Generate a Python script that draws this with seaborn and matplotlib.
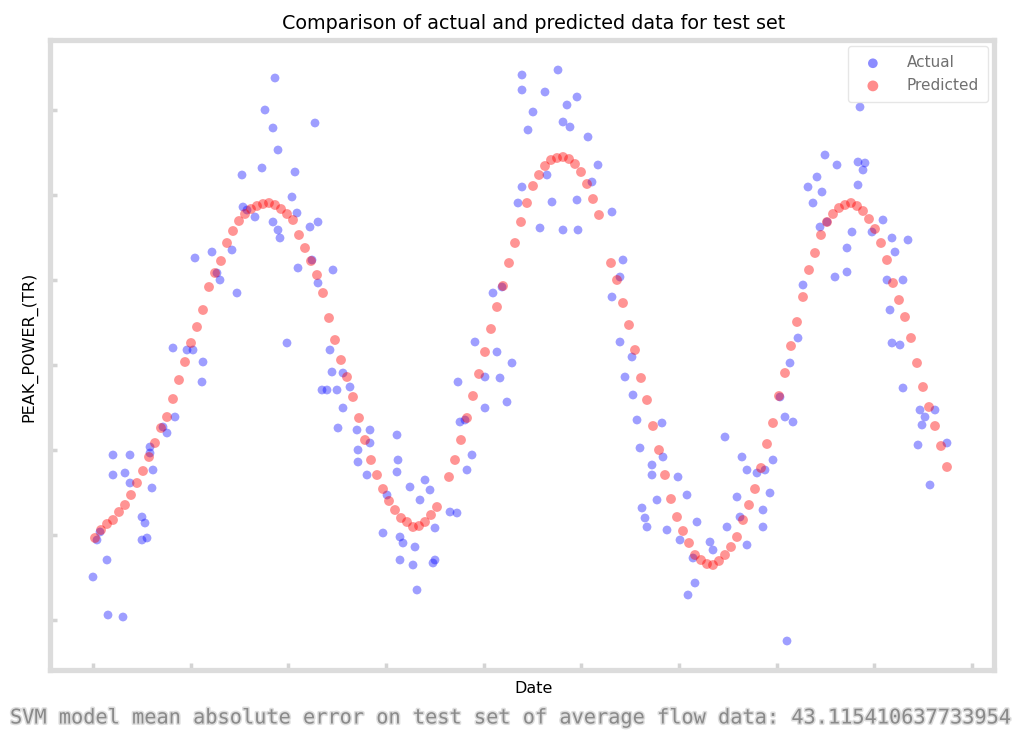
import numpy as np
import pandas as pd
import matplotlib
matplotlib.use("Agg")
import matplotlib.pyplot as plt
import matplotlib.patheffects as pe
import seaborn as sns

# ---------------- data ----------------
pred_day = [2, 8, 14, 20, 26, 32, 38, 44, 50, 56, 62, 68, 74, 80, 86, 92, 98, 104, 110, 116,
            122, 128, 134, 140, 146, 152, 158, 164, 170, 176, 182, 188, 194, 200, 206, 212, 218,
            224, 230, 236, 242, 248, 254, 260, 266, 272, 278, 284, 290, 296, 302, 308, 314, 320,
            326, 332, 338, 344,
            356, 362, 368, 374, 380, 386, 392, 398, 404, 410, 416, 422, 428, 434, 440, 446, 452,
            458, 464, 470, 476, 482, 488, 494, 500, 506,
            518, 524, 530, 536, 542, 548, 554, 560, 566, 572, 578, 584, 590, 596, 602, 608, 614,
            620, 626, 632, 638, 644, 650, 656, 662, 668, 674, 680, 686, 692, 698, 704, 710, 716,
            722, 728, 734, 740, 746, 752, 758, 764, 770, 776, 782, 788, 794, 800, 806, 812, 818,
            824, 830, 836, 842, 848, 854]
pred_power = [182, 190, 196, 200, 208, 215, 225, 237, 249, 263, 277, 292, 303, 321, 340, 358, 377,
              393, 410, 433, 447, 459, 477, 489, 499, 506, 511, 514, 516, 517, 515, 511, 506, 500,
              485, 472, 459, 445, 427, 402, 380, 360, 343, 323, 302, 280, 260, 245, 231, 219, 210,
              202, 198, 193, 194, 198, 205, 213,
              243, 260, 280, 302, 324, 346, 368, 391, 413, 434, 457, 477, 498, 517, 534, 545, 554,
              560, 562, 563, 561, 556, 548, 536, 521, 505,
              457, 440, 417, 395, 370, 342, 320, 294, 270, 245, 221, 203, 189, 177, 165, 160, 156,
              155, 159, 165, 173, 183, 200, 215, 231, 252, 276, 297, 324, 347, 374, 398, 423, 450,
              467, 485, 498, 506, 512, 515, 517, 514, 509, 501, 491, 477, 460, 437, 420, 403, 382,
              357, 333, 313, 294, 274, 253]

actual_day = [0, 4, 7, 14, 15, 20, 20, 30, 32, 37,
              37, 49, 52, 49, 54, 57, 57, 59, 60, 70,
              74, 82, 80, 94, 100, 110, 109, 102, 119, 124,
              127, 139, 144, 149, 150, 154, 162, 169, 172, 180,
              182, 185, 180, 185, 187, 194, 199, 202, 204, 205,
              217, 219, 222, 225, 225, 240, 237, 239, 234, 244,
              250, 245, 250, 257, 229, 264, 277, 265, 277, 265,
              274, 290, 294, 304, 305, 304, 307, 310, 307, 317,
              320, 322, 324, 327, 332, 337, 340, 342, 342, 357,
              364, 365, 367, 372, 374, 379, 382, 392, 392, 400,
              404, 407, 409, 414, 419, 425, 429, 429, 429, 435,
              440, 447, 452, 454, 459, 465, 470, 474, 477, 484,
              470, 484, 485, 495, 499, 505, 519, 519, 527, 530,
              527, 539, 532, 540, 544, 547, 549, 552, 554, 559,
              559, 564, 569, 570, 574, 585, 587, 594, 595, 600,
              602, 604, 617, 620, 632, 634, 644, 647, 649, 654,
              654, 664, 670, 670, 672, 677, 680, 687, 692, 694,
              697, 700, 705, 710, 715, 720, 724, 727, 729, 732,
              734, 742, 744, 754, 754, 759, 765, 765, 767, 770,
              772, 779, 790, 794, 797, 799, 799, 802, 807, 810,
              810, 815, 825, 827, 829, 832, 837, 842, 854]
actual_power = [143, 180, 188, 160, 105, 265, 245, 103, 247, 265,
                237, 203, 197, 180, 182, 273, 267, 232, 250, 293,
                287, 303, 372, 370, 370, 358, 338, 462, 468, 447,
                440, 470, 427, 545, 513, 510, 503, 552, 610, 592,
                642, 570, 498, 490, 482, 377, 523, 548, 507, 452,
                493, 460, 597, 498, 437, 450, 370, 348, 330, 330,
                312, 292, 347, 333, 330, 290, 290, 270, 277, 258,
                245, 187, 225, 285, 260, 248, 183, 177, 160, 233,
                155, 173, 130, 220, 240, 230, 157, 192, 160, 208,
                207, 338, 298, 300, 250, 265, 378, 343, 312, 427,
                368, 342, 433, 318, 357, 517, 533, 645, 630, 590,
                608, 492, 628, 545, 518, 650, 598, 615, 593, 623,
                490, 520, 490, 583, 538, 555, 508, 423, 443, 460,
                378, 363, 343, 325, 300, 272, 212, 202, 193, 255,
                245, 220, 297, 263, 190, 243, 180, 225, 125, 162,
                137, 198, 178, 170, 283, 193, 223, 203, 263, 250,
                175, 247, 193, 210, 250, 227, 260, 323, 303, 79,
                357, 298, 382, 435, 533, 517, 543, 493, 528, 565,
                498, 443, 555, 472, 448, 488, 558, 535, 613, 550,
                557, 488, 500, 440, 410, 482, 377, 468, 375, 440,
                332, 480, 275, 310, 295, 303, 235, 310, 277]

x_ticks = [0, 98, 195, 293, 391, 488, 586, 684, 781, 879]
y_ticks = [100, 185, 270, 355, 440, 525, 610]

title = "Comparison of actual and predicted data for test set"
footer = "SVM model mean absolute error on test set of average flow data: 43.115410637733954"

# ---------------- plot ----------------
sns.set_style("white")
plt.rcParams['font.family'] = ['DejaVu Sans']
plt.rcParams['text.color'] = 'black'
plt.rcParams['axes.labelcolor'] = 'black'

fig = plt.figure(figsize=(10.13, 7.33), dpi=100)
ax = fig.add_axes([50 / 1013, 1 - 670 / 733, 944 / 1013, 630 / 733])

actual = pd.DataFrame({"Date": actual_day, "PEAK_POWER_(TR)": actual_power})
pred = pd.DataFrame({"Date": pred_day, "PEAK_POWER_(TR)": pred_power})

sns.scatterplot(data=actual, x="Date", y="PEAK_POWER_(TR)", ax=ax, color="#0000ff",
                alpha=0.38, s=40, edgecolor="none", label="Actual")
sns.scatterplot(data=pred, x="Date", y="PEAK_POWER_(TR)", ax=ax, color="#ff0000",
                alpha=0.42, s=50, edgecolor="none", label="Predicted")

ax.set_xlim(-43, 901)
ax.set_ylim(50, 680)
ax.set_xticks(x_ticks)
ax.set_yticks(y_ticks)
ax.tick_params(axis="both", direction="in", length=5, width=2.5, color="#d4d4d4",
               labelleft=False, labelbottom=False, left=True, bottom=True)
for s in ax.spines.values():
    s.set_color("#dcdcdc")
    s.set_linewidth(3.8)

ax.set_title(title, fontsize=13.8, pad=8, color="black", x=0.5127)
ax.set_xlabel("Date", fontsize=11.5, labelpad=8)
ax.set_ylabel("PEAK_POWER_(TR)", fontsize=11.5, labelpad=9)
ax.xaxis.label.set_x(0.5127)
ax.yaxis.label.set_y(0.5127)

leg = ax.legend(loc="upper right", fontsize=11, frameon=True, edgecolor="#e0e0e0",
                labelcolor="#707070", handletextpad=1.2, borderpad=0.6,
                borderaxespad=0.4, markerscale=1.1)
for h in leg.legend_handles:
    h.set_alpha(0.45)

fig.text(10 / 1013, 1 - 718 / 733, footer, ha="left", va="center",
         family="DejaVu Sans Mono", fontsize=14.6, color="#8a8a8a",
         path_effects=[pe.withStroke(linewidth=2.2, foreground="#dedede")])

fig.savefig("out.png", dpi=100)
